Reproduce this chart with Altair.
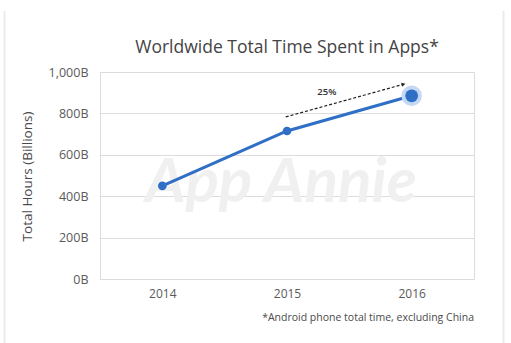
import altair as alt
import pandas as pd

# Worldwide total time spent in apps (billions of hours)
years = [2014, 2015, 2016]
hours_billions = [450, 715, 885]

# Growth annotation between 2015 and 2016
growth_label = "25%"

FONT = "Open Sans"
BLUE = "#2f6fc6"

df = pd.DataFrame({"year": years, "hours": hours_billions})
last = df.tail(1)

x_scale = alt.Scale(domain=[2013.5, 2016.5], nice=False, zero=False)
y_scale = alt.Scale(domain=[0, 1000], nice=False)

x_enc = alt.X(
    "year:Q",
    scale=x_scale,
    axis=alt.Axis(
        values=years, format="d", title=None, grid=False, domain=False,
        ticks=False, labelPadding=9, labelFontSize=12, labelColor="#5a5a5a",
        labelFont=FONT,
    ),
)
y_enc = alt.Y(
    "hours:Q",
    scale=y_scale,
    axis=alt.Axis(
        values=[0, 200, 400, 600, 800, 1000],
        labelExpr="format(datum.value, ',') + 'B'",
        title="Total Hours (Billions)", titleFontSize=13.5, titleFontWeight="normal",
        titleColor="#4a4a4a", titleFont=FONT, titleX=-66, titleY=104,
        titleAngle=-90, titleAlign="center", titleBaseline="bottom",
        labelFontSize=12.5, labelColor="#5a5a5a", labelFont=FONT, labelPadding=12,
        ticks=False, domain=True, domainColor="#dcdcdc", gridColor="#dcdcdc",
        gridWidth=1,
    ),
)

# faint watermark behind the data
watermark = alt.Chart(pd.DataFrame({"t": ["App Annie"]})).mark_text(
    font="Lato", fontSize=62, fontStyle="italic", fontWeight="bold", color="#f0f0f0",
    align="center", baseline="alphabetic",
).encode(x=alt.value(181), y=alt.value(130), text="t:N")

line = alt.Chart(df).mark_line(color=BLUE, strokeWidth=3).encode(x=x_enc, y=y_enc)
dots = alt.Chart(df.head(2)).mark_circle(color=BLUE, size=75, opacity=1).encode(
    x="year:Q", y="hours:Q")
halo = alt.Chart(last).mark_circle(color="#c4d8f4", size=420, opacity=1).encode(
    x="year:Q", y="hours:Q")
big_dot = alt.Chart(last).mark_circle(color=BLUE, size=165, opacity=1).encode(
    x="year:Q", y="hours:Q")

# dashed growth arrow
arrow_df = pd.DataFrame({"x": [2014.99], "y": [783], "x2": [2015.93], "y2": [940]})
arrow = alt.Chart(arrow_df).mark_rule(
    color="#222222", strokeWidth=1.2, strokeDash=[3, 2]
).encode(x="x:Q", y="y:Q", x2="x2:Q", y2="y2:Q")
head = alt.Chart(arrow_df).mark_point(
    shape="triangle", filled=True, color="#222222", size=18, angle=74, opacity=1
).encode(x="x2:Q", y="y2:Q")
growth = alt.Chart(pd.DataFrame({"x": [2015.32], "y": [903], "t": [growth_label]})).mark_text(
    font=FONT, fontSize=9.5, fontWeight=600, color="#333333"
).encode(x="x:Q", y="y:Q", text="t:N")

title = alt.Chart(pd.DataFrame({"t": ["Worldwide Total Time Spent in Apps*"]})).mark_text(
    font=FONT, fontSize=17.5, color="#444444", align="center", baseline="middle"
).encode(x=alt.value(187), y=alt.value(-24), text="t:N")

footnote = alt.Chart(pd.DataFrame({"t": ["*Android phone total time, excluding China"]})).mark_text(
    font=FONT, fontSize=10.5, color="#4a4a4a", align="right", baseline="middle"
).encode(x=alt.value(374), y=alt.value(246), text="t:N")

# card edges
edges = alt.Chart(pd.DataFrame({"x": [-95.5, 403.5]})).mark_rule(
    color="#ebebeb", strokeWidth=2
).encode(x=alt.X("x:Q", scale=None), y=alt.value(-61), y2=alt.value(275))

chart = alt.layer(
    watermark, line, dots, halo, big_dot, arrow, head, growth, title, footnote, edges
).properties(
    width=374, height=207,
    autosize=alt.AutoSizeParams(type="none"),
    padding={"left": 100, "top": 72, "right": 37, "bottom": 64},
).configure_view(stroke=None).configure(background="white")

chart.save("out.html", embed_options={"renderer": "svg", "actions": False})
